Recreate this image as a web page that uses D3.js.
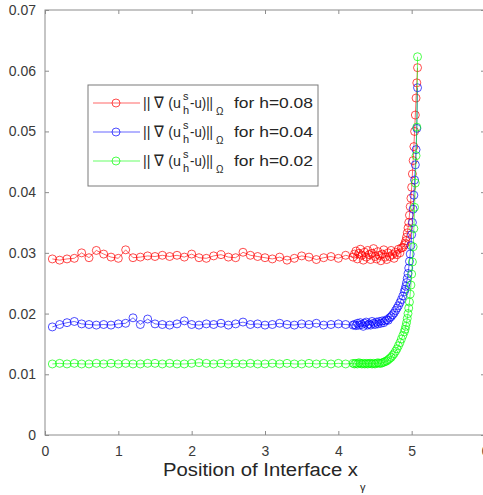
<!DOCTYPE html>
<html>
<head>
<meta charset="utf-8">
<script src="https://cdn.jsdelivr.net/npm/d3@7"></script>
<style>
  body { margin: 0; background: #fff; }
  text { font-family: "Liberation Sans", Arial, sans-serif; }
</style>
</head>
<body>
<div id="chart"></div>
<script>
// x positions: coarse part, fine part, tail near the interface jump
const xCoarse = [0.1, 0.2, 0.3, 0.4, 0.5, 0.6, 0.7, 0.8, 0.9, 1.0, 1.1, 1.2, 1.3, 1.4, 1.5, 1.6, 1.7, 1.8, 1.9, 2.0,
  2.1, 2.2, 2.3, 2.4, 2.5, 2.6, 2.7, 2.8, 2.9, 3.0, 3.1, 3.2, 3.3, 3.4, 3.5, 3.6, 3.7, 3.8, 3.9, 4.0, 4.1, 4.2];
const xFine = [4.22, 4.24, 4.26, 4.28, 4.30, 4.32, 4.34, 4.36, 4.38, 4.40, 4.42, 4.44, 4.46, 4.48, 4.50, 4.52, 4.54,
  4.56, 4.58, 4.60, 4.62, 4.64, 4.66, 4.68, 4.70, 4.72, 4.74, 4.76, 4.78, 4.80, 4.82, 4.84, 4.86, 4.88, 4.90];
const xTail = [4.91, 4.92, 4.93, 4.94, 4.95, 4.96, 4.97, 4.98, 4.99, 5.00, 5.01, 5.02, 5.03, 5.04, 5.05, 5.06, 5.07, 5.08];

// h = 0.08
const red = [0.0290, 0.0288, 0.0290, 0.0291, 0.0300, 0.0292, 0.0304, 0.0298, 0.0293, 0.0291, 0.0305, 0.0292, 0.0293,
  0.0295, 0.0294, 0.0296, 0.0294, 0.0296, 0.0293, 0.0298, 0.0292, 0.0291, 0.0295, 0.0297, 0.0293, 0.0292, 0.0301,
  0.0296, 0.0294, 0.0292, 0.0290, 0.0293, 0.0288, 0.0291, 0.0295, 0.0293, 0.0289, 0.0292, 0.0294, 0.0291, 0.0296, 0.0293,
  0.0298, 0.0303, 0.0290, 0.0299, 0.0306, 0.0296, 0.0288, 0.0301, 0.0293, 0.0304, 0.0297, 0.0289, 0.0299, 0.0307,
  0.0294, 0.0290, 0.0302, 0.0296, 0.0287, 0.0298, 0.0305, 0.0293, 0.0289, 0.0300, 0.0294, 0.0304, 0.0297, 0.0291,
  0.0301, 0.0297, 0.0306, 0.0300, 0.0308, 0.0309, 0.0313,
  0.0316, 0.0320, 0.0326, 0.0333, 0.0341, 0.0350, 0.0362, 0.0376, 0.0390, 0.0408, 0.0430, 0.0452, 0.0475, 0.0500,
  0.0527, 0.0555, 0.0580, 0.0605];
// h = 0.04
const blue = [0.0178, 0.0182, 0.0185, 0.0187, 0.0183, 0.0182, 0.0181, 0.0182, 0.0181, 0.0183, 0.0184, 0.0193, 0.0182,
  0.0191, 0.0183, 0.0182, 0.0181, 0.0183, 0.0188, 0.0182, 0.0181, 0.0183, 0.0182, 0.0184, 0.0181, 0.0183, 0.0186,
  0.0182, 0.0183, 0.0181, 0.0182, 0.0184, 0.0182, 0.0181, 0.0183, 0.0182, 0.0184, 0.0181, 0.0182, 0.0183, 0.0182, 0.0181,
  0.0182, 0.0180, 0.0184, 0.0181, 0.0185, 0.0182, 0.0179, 0.0184, 0.0186, 0.0181, 0.0183, 0.0181, 0.0187, 0.0184,
  0.0182, 0.0186, 0.0183, 0.0187, 0.0184, 0.0188, 0.0185, 0.0188, 0.0190, 0.0189, 0.0193, 0.0195, 0.0198, 0.0201,
  0.0205, 0.0209, 0.0213, 0.0218, 0.0223, 0.0229, 0.0236,
  0.0240, 0.0245, 0.0251, 0.0258, 0.0266, 0.0275, 0.0286, 0.0298, 0.0312, 0.0330, 0.0350, 0.0372, 0.0395, 0.0420,
  0.0445, 0.0470, 0.0505, 0.0572];
// h = 0.02
const green = [0.0117, 0.0118, 0.0117, 0.0118, 0.0117, 0.0117, 0.0118, 0.0117, 0.0118, 0.0117, 0.0118, 0.0117, 0.0117,
  0.0118, 0.0118, 0.0117, 0.0118, 0.0117, 0.0117, 0.0118, 0.0119, 0.0118, 0.0117, 0.0118, 0.0117, 0.0118, 0.0117,
  0.0118, 0.0117, 0.0117, 0.0118, 0.0117, 0.0118, 0.0117, 0.0117, 0.0118, 0.0117, 0.0118, 0.0117, 0.0118, 0.0117, 0.0118,
  0.0117, 0.0118, 0.0117, 0.0119, 0.0118, 0.0117, 0.0118, 0.0117, 0.0118, 0.0117, 0.0118, 0.0118, 0.0117, 0.0118,
  0.0117, 0.0118, 0.0119, 0.0118, 0.0118, 0.0119, 0.0120, 0.0121, 0.0122, 0.0124, 0.0126, 0.0128, 0.0131, 0.0134,
  0.0138, 0.0142, 0.0147, 0.0152, 0.0158, 0.0164, 0.0170,
  0.0174, 0.0179, 0.0185, 0.0192, 0.0200, 0.0209, 0.0219, 0.0232, 0.0247, 0.0265, 0.0285, 0.0310, 0.0340, 0.0375,
  0.0415, 0.0460, 0.0507, 0.0623];

const xTicks = [0, 1, 2, 3, 4, 5, 6];
const yTicks = [0, 0.01, 0.02, 0.03, 0.04, 0.05, 0.06, 0.07];
const labels = ["0.08", "0.04", "0.02"];

const theme = { red: "#ff0000", blue: "#0000ff", green: "#00ff00", axis: "#8c8c8c", text: "#3a3a3a" };

const width = 483, height = 495;
const margin = { left: 45, right: -2, top: 10, bottom: 60 };

const svg = d3.select("#chart").append("svg").attr("width", width).attr("height", height);

const xScale = d3.scaleLinear().domain([0, 6]).range([margin.left, width - margin.right]);
const yScale = d3.scaleLinear().domain([0, 0.07]).range([height - margin.bottom, margin.top]);

const xs = xCoarse.concat(xFine, xTail);
const series = [
  { name: labels[0], color: theme.red, values: red },
  { name: labels[1], color: theme.blue, values: blue },
  { name: labels[2], color: theme.green, values: green },
];

// axes, MATLAB style: ticks pointing inward, box all round
const x0 = xScale(0), x1 = xScale(6), y0 = yScale(0), y1 = yScale(0.07);
svg.append("rect").attr("x", x0).attr("y", y1).attr("width", x1 - x0).attr("height", y0 - y1)
  .attr("fill", "none").attr("stroke", theme.axis).attr("stroke-width", 1);

const bottomAxis = svg.append("g")
  .attr("transform", `translate(0, ${y0})`)
  .call(d3.axisBottom(xScale).tickValues(xTicks).tickSize(-4).tickPadding(11).tickFormat(d3.format("d")));
const leftAxis = svg.append("g")
  .attr("transform", `translate(${x0}, 0)`)
  .call(d3.axisLeft(yScale).tickValues(yTicks).tickSize(-4).tickPadding(9)
    .tickFormat((d) => d === 0 ? "0" : d3.format(".2f")(d)));
const topAxis = svg.append("g")
  .attr("transform", `translate(0, ${y1})`)
  .call(d3.axisTop(xScale).tickValues(xTicks).tickSize(-4).tickFormat(""));
const rightAxis = svg.append("g")
  .attr("transform", `translate(${x1}, 0)`)
  .call(d3.axisRight(yScale).tickValues(yTicks).tickSize(-4).tickFormat(""));

[bottomAxis, leftAxis, topAxis, rightAxis].forEach((g) => {
  g.select(".domain").remove();
  g.selectAll("line").attr("stroke", theme.axis);
  g.selectAll("text").attr("fill", theme.text).style("font-size", "14px")
    .style("font-family", "'Liberation Sans', Arial, sans-serif");
});

// x label
svg.append("text").attr("x", 163).attr("y", 476)
  .attr("textLength", 195).attr("lengthAdjust", "spacingAndGlyphs")
  .attr("fill", "#262626").style("font-size", "18px").text("Position of Interface x");
svg.append("text").attr("x", 360).attr("y", 491).attr("fill", "#262626")
  .style("font-size", "11px").text("γ");

// data
const line = d3.line().x((d) => xScale(d[0])).y((d) => yScale(d[1]));
series.forEach((s) => {
  const pts = xs.map((x, i) => [x, s.values[i]]);
  const g = svg.append("g");
  g.append("path").attr("d", line(pts)).attr("fill", "none")
    .attr("stroke", s.color).attr("stroke-width", 0.6);
  g.selectAll("circle").data(pts).join("circle")
    .attr("cx", (d) => xScale(d[0])).attr("cy", (d) => yScale(d[1])).attr("r", 4)
    .attr("fill", "none").attr("stroke", s.color).attr("stroke-width", 0.7);
});

// legend
const legend = svg.append("g");
legend.append("rect").attr("x", 88).attr("y", 85).attr("width", 230).attr("height", 101)
  .attr("fill", "#fff").attr("stroke", "#7a7a7a").attr("stroke-width", 1);
series.forEach((s, i) => {
  const cy = 103 + i * 29;
  legend.append("line").attr("x1", 93).attr("x2", 140).attr("y1", cy).attr("y2", cy)
    .attr("stroke", s.color).attr("stroke-width", 0.6);
  legend.append("circle").attr("cx", 116).attr("cy", cy).attr("r", 4)
    .attr("fill", "none").attr("stroke", s.color).attr("stroke-width", 0.7);

  const base = cy + 5;
  const put = (str, x, size, dy, len) => {
    const t = legend.append("text").attr("x", x).attr("y", base + dy)
      .attr("fill", "#262626").style("font-size", size + "px").text(str);
    if (len) t.attr("textLength", len).attr("lengthAdjust", "spacingAndGlyphs");
  };
  put("|| \u2207 (u", 143, 15.5, 0, 38);
  put("s", 183, 11, -8);
  put("h", 183, 11, 6);
  put("-u)||", 190, 15.5, 0, 23);
  put("\u03a9", 216, 10, 7);
  put("for h=" + s.name, 234, 15.5, 0, 79);
});
</script>
</body>
</html>
